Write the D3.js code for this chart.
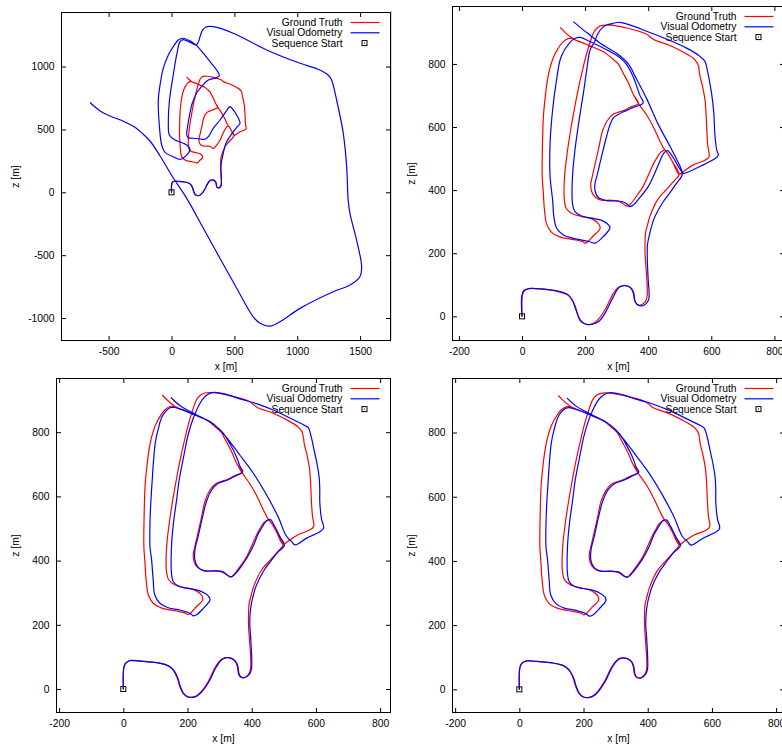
<!DOCTYPE html>
<html><head><meta charset="utf-8">
<script src="https://cdn.jsdelivr.net/npm/d3@7"></script>
<style>
body{margin:0;background:#fff}
svg{display:block}
text{font-family:"Liberation Sans",Arial,Helvetica,sans-serif;font-size:10.3px;fill:#000}
</style>
</head><body>
<svg id="chart" width="782" height="746"></svg>
<script>
// ---------------- data (metres) ----------------
const seriesNames = ["Ground Truth", "Visual Odometry", "Sequence Start"];
const sequenceStart = [0, 0];

const groundTruth = [
[0,0],[0,50],[2,70],[8,81],[21,88],[52,87],[104,82],[130,76],[145,69],[158,55],[168,34],[176,8],[185,-12],[197,-23],[213,-26],[228,-21],[244,-7],[265,24],[285,65],[301,88],[316,97],[332,97],[348,87],[355,71],[358,50],[363,39],[374,35],[389,44],[396,60],[397,91],[393,154],[390,199],[390,230],[392,267],[398,290],[405,316],[430,370],[456,400],[482,429],[498,450],
[478,488],[462,516],[452,527],
[444,523],[436,516],[425,498],[415,480],[399,444],[384,412],[363,381],[345,357],[336,349],[327,352],[306,365],[280,368],[252,368],[232,378],[221,395],[218,420],[222,440],[230,475],[244,537],[254,584],[270,620],[290,641],[322,652],[346,664],[369,675],
[353,703],[337,740],[318,776],[305,800],[285,818],[264,835],[228,852],[200,864],[176,873],[160,880],
[146,880],[130,870],[115,850],[100,822],[88,785],[80,745],[73,690],[68,636],[65,548],[64,444],[67,400],[71,340],[78,293],[93,267],[120,252],[165,243],[192,237],[202,232],
[228,257],[247,277],[244,292],[223,308],[187,317],[160,325],[141,341],[134,371],[135,444],[143,516],[154,589],[163,640],[176,709],[192,781],[205,833],[218,875],[228,901],[241,916],[254,922],[280,923],[332,914],[394,895],[416,878],[467,859],[519,833],[543,818],[552,808],[558,798],[564,762],[572,730],[580,686],[584,630],[586,584],[589,540],[593,506],[580,495],[543,480],[511,459],[498,450],
[478,488],[462,516],[452,528],[437,556],[416,601],[395,638],[369,675],[353,703],[337,740],[318,776],[305,800],[285,818],[264,835],[228,852],[200,864],[176,873],[160,881],[140,897],[121,916]
];

// visual odometry, top-left panel (strong drift)
const voTopLeft = [
[0,0],[0,50],[2,70],[8,81],[21,88],[52,87],[104,82],[130,76],[145,69],[158,55],[168,34],[176,8],[185,-12],[197,-23],[213,-26],[228,-21],[244,-7],[265,24],[285,65],[301,88],[316,97],[332,97],[348,87],[355,71],[358,50],[363,39],[374,35],[389,44],[396,60],[397,91],
[394,217],[412,310],[433,390],[473,456],[523,522],[545,549],[518,615],[491,655],[465,681],[433,641],[386,575],[332,509],[293,442],[266,422],[227,424],[173,430],[134,434],[121,456],[126,509],[134,562],[161,695],[175,734],[200,790],[227,827],[293,893],[346,907],[380,928],
[359,973],[306,1039],[253,1106],[200,1166],[147,1204],[94,1225],[54,1212],[14,1158],[-25,1092],[-65,987],[-91,854],[-105,734],[-97,535],[-78,376],[-52,318],[14,283],[73,263],[147,337],
[121,376],[68,400],[28,416],[-17,456],[-25,562],[-16,734],[14,933],[41,1092],[68,1198],[94,1214],[147,1193],[195,1172],[213,1193],[227,1238],[248,1291],[274,1315],[332,1317],
[491,1265],[757,1132],[1022,1026],[1180,973],[1246,933],[1273,893],[1313,734],[1366,469],[1393,204],[1405,-61],[1419,-167],[1472,-380],[1512,-592],[1498,-671],[1419,-738],[1286,-791],[1022,-923],[863,-1029],[783,-1064],[704,-1042],[650,-990],
[513,-753],[274,-324],[121,-48],[8,124],[-91,289],[-171,408],[-227,464],[-282,512],[-370,559],[-489,607],[-568,647],[-648,714]
];

// visual odometry, top-right panel
const voTopRight = [
[0,0],[-1,62],[5,81],[23,88],[60,87],[113,79],[145,68],[161,47],[173,15],[185,-14],[203,-25],[224,-25],[245,-15],[266,15],[287,57],[308,92],[324,97],[343,92],[353,73],[358,47],[372,34],[388,36],[401,52],[403,73],[400,115],[397,195],[398,230],[405,263],[412,290],[421,316],[448,364],[469,392],[490,422],[508,450],
[496,474],[476,508],[461,525],[452,520],[445,510],[432,480],[416,443],[400,411],[374,377],[353,353],[342,348],[333,356],[316,364],[268,367],[242,377],[231,401],[232,425],[237,443],[252,506],[268,570],[279,607],[289,628],[305,640],[330,652],[355,663],[384,676],
[373,702],[352,760],[330,800],[310,820],[268,845],[215,871],[185,884],[170,882],
[150,866],[124,823],[108,739],[97,654],[89,549],[89,443],[97,369],[101,316],[110,279],[131,258],[163,247],[210,238],[231,232],[252,247],[279,282],[274,290],[253,304],[221,311],[189,318],[168,332],[160,358],[160,443],[168,528],[178,602],[186,654],[195,710],[205,780],[216,845],[229,868],[240,895],[255,915],[270,924],[287,928],[310,932],[420,894],[522,850],[564,824],[580,808],[587,782],[601,706],[608,644],[611,581],[617,528],[622,510],[607,497],[564,475],[522,456],[511,453],
[501,476],[469,539],[431,610],[395,690],[363,752],[337,800],[305,830],[247,866],[215,892],[194,908],[163,934]
];

// visual odometry, bottom-left panel
const voBottomLeft = [
[0,0],[0,52],[3,72],[9,82],[22,89],[53,87],[105,82],[132,76],[147,68],[160,54],[170,33],[178,7],[187,-13],[200,-24],[216,-26],[231,-21],[247,-6],[268,25],[288,66],[304,89],[319,97],[335,96],[350,86],[357,70],[360,49],[366,38],[377,35],[392,45],[399,61],[400,92],[397,154],[394,199],[395,235],[399,267],[405,292],[413,319],[436,366],[456,394],[480,425],[502,448],
[489,472],[472,506],[458,528],[448,525],[441,518],[430,500],[420,483],[405,446],[389,415],[368,383],[347,357],[338,350],[330,351],[311,365],[285,368],[254,368],[233,379],[223,402],[223,433],[233,475],[247,537],[259,584],[275,620],[295,640],[327,652],[350,664],[372,677],
[364,692],[353,722],[332,764],[311,797],[285,822],[259,838],[218,856],[180,871],[160,877],[145,876],
[132,865],[120,847],[110,815],[100,770],[94,710],[90,651],[84,548],[83,444],[88,403],[93,340],[98,293],[114,267],[140,253],[176,246],[207,236],[218,228],[228,231],[249,251],[270,277],[267,287],[254,298],[228,309],[197,314],[171,321],[156,334],[150,360],[150,444],[156,516],[166,589],[174,651],[187,719],[202,792],[218,844],[229,870],[239,890],[250,906],[264,918],[282,924],[320,918],[363,904],[415,889],[467,869],[519,844],[565,821],[576,814],[586,783],[594,745],[602,709],[610,660],[612,620],[612,584],[617,532],[624,501],[612,490],[571,470],[535,449],
[524,460],[508,476],[482,537],[446,605],[405,672],[363,729],[340,760],[316,790],[296,812],[270,833],[240,848],[205,866],[176,883],[148,908]
];

// visual odometry, bottom-right panel (reads the same as bottom-left)
const voBottomRight = voBottomLeft;

// tick labels
const ticksWideX = [-500, 0, 500, 1000, 1500];
const ticksWideY = [-1000, -500, 0, 500, 1000];
const ticksNarrowX = [-200, 0, 200, 400, 600, 800];
const ticksNarrowY = [0, 200, 400, 600, 800];

// ---------------- layout ----------------
const panels = [
  {vo: voTopLeft,     l:61.5, r:390.5, t:12.5,  b:340.5, x0:171.5,  y0:192.3,  k:0.12575, xt:ticksWideX,   yt:ticksWideY,   ylab:15},
  {vo: voTopRight,    l:452.5, r:784.5, t:6.5,  b:340.5, x0:522,    y0:316.33, k:0.3155,  xt:ticksNarrowX, yt:ticksNarrowY, ylab:411.7},
  {vo: voBottomLeft,  l:56.5, r:390.5, t:378.5, b:712.5, x0:123.33, y0:689,    k:0.321,   xt:ticksNarrowX, yt:ticksNarrowY, ylab:15},
  {vo: voBottomRight, l:452.5, r:784.5, t:378.5, b:712.5, x0:519.33, y0:689.33, k:0.321,  xt:ticksNarrowX, yt:ticksNarrowY, ylab:411.7}
];

const RED = "#ff0000", BLUE = "#0000ff";
const svg = d3.select("#chart");
const fmt = d => String(d);

// faint separator line
svg.append("line").attr("x1",391.5).attr("x2",391.5).attr("y1",10).attr("y2",340)
  .attr("stroke","#d4d4d4").attr("stroke-width",1);

panels.forEach((p, i) => {
  const x = d3.scaleLinear().domain([(p.l - p.x0)/p.k, (p.r - p.x0)/p.k]).range([p.l, p.r]);
  const y = d3.scaleLinear().domain([(p.y0 - p.b)/p.k, (p.y0 - p.t)/p.k]).range([p.b, p.t]);
  const g = svg.append("g");

  const clipId = "clip" + i;
  svg.append("clipPath").attr("id", clipId).append("rect")
    .attr("x", p.l).attr("y", p.t).attr("width", p.r - p.l).attr("height", p.b - p.t);

  const tick = 4.5;
  const axB = d3.axisBottom(x).tickValues(p.xt).tickSizeInner(-tick).tickSizeOuter(0).tickPadding(7.4).tickFormat(fmt);
  const axT = d3.axisTop(x).tickValues(p.xt).tickSizeInner(-tick).tickSizeOuter(0).tickFormat("");
  const axL = d3.axisLeft(y).tickValues(p.yt).tickSizeInner(-tick).tickSizeOuter(0).tickPadding(7).tickFormat(fmt);
  const axR = d3.axisRight(y).tickValues(p.yt).tickSizeInner(-tick).tickSizeOuter(0).tickFormat("");

  [[axB, `translate(0,${p.b})`], [axT, `translate(0,${p.t})`], [axL, `translate(${p.l},0)`], [axR, `translate(${p.r},0)`]]
    .forEach(([ax, tr]) => {
      const a = g.append("g").attr("transform", tr).call(ax);
      a.select(".domain").remove();
      a.selectAll("line").attr("stroke", "#000").attr("stroke-width", 1);
      a.selectAll("text").attr("font-family", null).attr("font-size", null).attr("fill", "#000");
    });

  g.append("rect").attr("x", p.l).attr("y", p.t).attr("width", p.r - p.l).attr("height", p.b - p.t)
    .attr("fill", "none").attr("stroke", "#000").attr("stroke-width", 1);

  // axis titles
  g.append("text").attr("x", (p.l + p.r)/2).attr("y", p.b + 26).attr("dy", "0.35em")
    .attr("text-anchor", "middle").text("x [m]");
  g.append("text").attr("transform", `translate(${p.ylab},${(p.t + p.b)/2}) rotate(-90)`)
    .attr("dy", "0.35em").attr("text-anchor", "middle").text("z [m]");

  const line = d3.line().x(d => x(d[0])).y(d => y(d[1])).curve(d3.curveCatmullRom.alpha(0.5));
  const data = g.append("g").attr("clip-path", `url(#${clipId})`);
  data.append("path").attr("d", line(groundTruth)).attr("fill", "none").attr("stroke", RED).attr("stroke-width", 1.2).attr("stroke-linejoin","round");
  data.append("path").attr("d", line(p.vo)).attr("fill", "none").attr("stroke", BLUE).attr("stroke-width", 1.2).attr("stroke-linejoin","round");

  // start marker
  const sx = x(sequenceStart[0]), sy = y(sequenceStart[1]);
  data.append("rect").attr("x", sx - 2.5).attr("y", sy - 2.5).attr("width", 5).attr("height", 5)
    .attr("fill", "none").attr("stroke", "#000").attr("stroke-width", 1);
  data.append("rect").attr("x", sx - 0.5).attr("y", sy - 0.5).attr("width", 1).attr("height", 1).attr("fill", "#000");

  // legend
  const lg = g.append("g");
  const colors = [RED, BLUE, null];
  seriesNames.forEach((name, j) => {
    const ly = p.t + 10 + j * 10.3;
    lg.append("text").attr("x", p.r - 48).attr("y", ly).attr("dy", "0.35em").attr("text-anchor", "end").text(name);
    if (colors[j]) {
      lg.append("line").attr("x1", p.r - 40).attr("x2", p.r - 11).attr("y1", ly).attr("y2", ly)
        .attr("stroke", colors[j]).attr("stroke-width", 1.2);
    } else {
      const mx = p.r - 26;
      lg.append("rect").attr("x", mx - 2.5).attr("y", ly - 2.5).attr("width", 5).attr("height", 5)
        .attr("fill", "none").attr("stroke", "#000").attr("stroke-width", 1);
      lg.append("rect").attr("x", mx - 0.5).attr("y", ly - 0.5).attr("width", 1).attr("height", 1).attr("fill", "#000");
    }
  });
});
</script>
</body></html>
